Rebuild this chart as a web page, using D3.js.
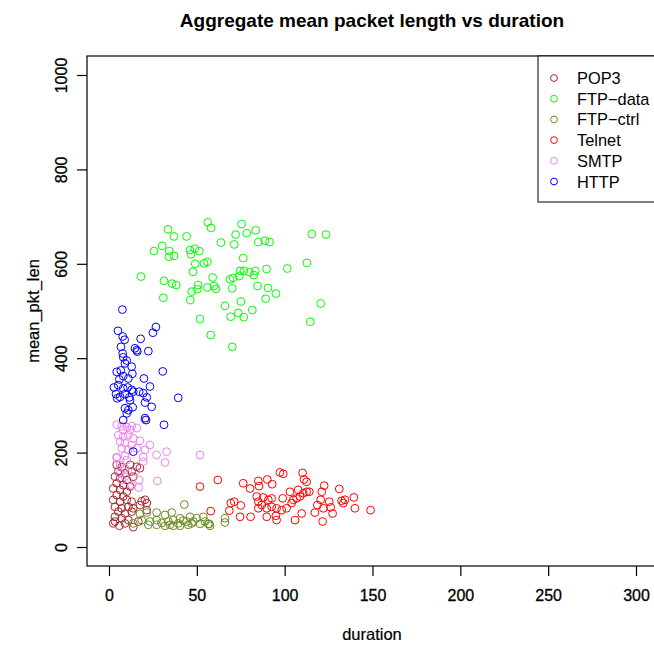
<html>

<head>
    <script src="https://d3js.org/d3.v7.min.js"></script>
    <style>
        body { margin: 0; background: #fff; }
        text { font-family: "Liberation Sans", Arial, sans-serif; }
    </style>
</head>

<body>
    <svg id="chartArea" width="654" height="647"></svg>
    <script>
        // protocols in legend order, with R colour names
        const protocols = ["POP3", "FTP\u2212data", "FTP\u2212ctrl", "Telnet", "SMTP", "HTTP"];
        const colors = ["#a52a2a", "#00ff00", "#6b8e23", "#ff0000", "#ee82ee", "#0000ff"];

        // [duration, mean_pkt_len]
        const pop3 = [
            [4.4, 174], [7.2, 169], [12.0, 174], [15.8, 170], [17.6, 167], [5.3, 160], [9.1, 156], [12.9, 160],
            [3.4, 149], [6.3, 146], [10.1, 142], [13.8, 149], [4.4, 135], [8.1, 131], [12.0, 128], [2.4, 124],
            [6.3, 121], [10.1, 117], [4.4, 110], [8.1, 107], [2.4, 100], [6.3, 96], [10.1, 100], [12.9, 96],
            [18.6, 97], [20.5, 100], [21.5, 93], [3.4, 85], [7.2, 82], [11.0, 85], [13.8, 82], [17.6, 89],
            [21.5, 78], [5.3, 75], [9.1, 71], [12.9, 75], [3.4, 64], [7.2, 61], [11.0, 57], [3.4, 54],
            [5.9, 45], [9.1, 50], [13.8, 42], [2.4, 50], [16.7, 54]
        ];
        const ftpData = [
            [56.2, 688], [58.1, 676], [75.5, 684], [33.6, 673], [37.0, 658], [44.2, 658], [72.1, 662], [78.4, 665],
            [83.5, 671], [115.4, 663], [123.5, 662], [63.7, 645], [71.3, 641], [85.0, 646], [88.8, 649], [91.4, 646],
            [30.3, 638], [25.6, 627], [34.3, 627], [46.1, 629], [48.9, 632], [51.4, 627], [46.7, 620], [34.1, 615],
            [37.0, 617], [76.4, 612], [49.1, 600], [54.1, 601], [56.0, 604], [47.8, 583], [74.6, 585], [76.8, 585],
            [79.9, 582], [83.3, 585], [89.7, 589], [101.5, 590], [112.7, 602], [18.2, 573], [31.3, 564], [35.9, 558],
            [38.3, 555], [59.0, 571], [68.9, 567], [70.7, 570], [74.2, 574], [82.5, 576], [50.7, 555], [47.1, 541],
            [50.3, 546], [56.0, 550], [60.9, 547], [59.8, 553], [70.2, 548], [84.6, 553], [90.5, 549], [95.0, 537],
            [89.2, 526], [30.9, 528], [46.3, 523], [66.0, 511], [75.1, 520], [81.6, 502], [73.6, 496], [69.3, 488],
            [76.7, 487], [120.5, 516], [114.6, 477], [51.8, 483], [57.9, 449], [70.2, 424]
        ];
        const ftpCtrl = [
            [42.9, 90], [17.6, 70], [21.5, 73], [27.1, 73], [31.9, 68], [35.7, 73], [40.4, 61], [46.1, 64],
            [49.9, 61], [53.7, 64], [56.5, 49], [57.5, 45], [13.8, 50], [18.6, 57], [23.3, 54], [27.1, 57],
            [30.0, 51], [33.8, 54], [36.6, 57], [39.4, 50], [42.3, 56], [45.1, 47], [48.0, 54], [51.8, 49],
            [22.4, 47], [31.9, 45], [36.6, 45], [44.2, 54], [27.1, 47], [34.7, 47], [40.4, 45], [47.1, 50],
            [54.6, 54], [57.1, 49], [66.0, 61], [66.0, 52]
        ];
        const telnet = [
            [51.8, 128], [61.9, 142], [57.9, 76], [68.5, 77], [69.3, 93], [71.3, 96], [75.0, 88], [74.6, 64],
            [80.6, 64], [76.4, 135], [80.3, 124], [85.0, 140], [85.4, 129], [90.1, 143], [92.9, 133], [97.3, 158],
            [99.2, 155], [110.2, 157], [111.0, 143], [112.5, 138], [84.1, 107], [87.8, 105], [90.7, 100], [92.6, 103],
            [85.0, 96], [86.9, 89], [89.8, 82], [92.6, 85], [95.4, 82], [98.3, 78], [101.1, 82], [85.0, 82],
            [89.8, 64], [95.0, 66], [95.4, 57], [98.9, 103], [103.0, 117], [104.0, 93], [104.9, 100], [106.8, 103],
            [108.7, 107], [107.7, 121], [110.6, 114], [112.5, 117], [114.0, 117], [105.9, 57], [109.7, 71], [117.2, 73],
            [118.6, 89], [120.5, 100], [121.1, 117], [122.5, 130], [121.6, 54], [122.0, 82], [125.4, 96], [126.2, 84],
            [127.3, 71], [131.1, 123], [132.4, 98], [134.3, 100], [133.4, 93], [139.4, 105], [140.0, 82], [148.9, 78]
        ];
        const smtp = [
            [4.4, 259], [7.2, 256], [10.1, 254], [12.9, 256], [15.8, 252], [8.1, 248], [12.0, 248], [20.5, 269],
            [5.3, 237], [8.1, 234], [11.0, 237], [13.8, 230], [17.6, 225], [6.3, 223], [9.1, 220], [12.9, 216],
            [23.3, 216], [7.2, 209], [11.0, 206], [15.8, 209], [20.5, 206], [27.1, 195], [32.8, 202], [51.8, 195],
            [4.4, 191], [9.1, 193], [19.5, 191], [10.1, 184], [19.5, 181], [31.9, 179], [6.3, 174], [9.1, 167],
            [14.8, 160], [6.3, 156], [9.1, 149], [17.2, 142], [27.5, 140], [12.9, 131], [16.9, 126], [7.2, 142],
            [4.4, 188]
        ];
        const http = [
            [7.6, 503], [5.1, 458], [7.8, 446], [8.9, 439], [18.0, 441], [26.7, 466], [25.0, 454], [6.8, 424],
            [14.8, 421], [15.8, 417], [16.1, 414], [22.4, 415], [7.8, 410], [8.1, 402], [10.1, 395], [9.1, 389],
            [12.9, 382], [30.6, 372], [4.4, 371], [6.7, 374], [8.1, 362], [13.3, 367], [5.9, 355], [11.0, 357],
            [19.9, 357], [2.8, 338], [5.3, 343], [8.1, 336], [10.6, 338], [12.9, 333], [23.3, 340], [4.0, 324],
            [6.3, 318], [9.1, 324], [11.6, 317], [13.8, 329], [17.2, 329], [19.5, 326], [21.5, 317], [39.4, 316],
            [4.7, 315], [12.0, 311], [20.5, 306], [9.1, 294], [11.0, 290], [13.5, 296], [24.3, 297], [10.1, 283],
            [8.1, 269], [20.5, 273], [21.1, 269], [31.3, 259], [13.8, 202]
        ];
        const series = [pop3, ftpData, ftpCtrl, telnet, smtp, http];

        const xTicks = [0, 50, 100, 150, 200, 250, 300];
        const yTicks = [0, 200, 400, 600, 800, 1000];

        const svg = d3.select("#chartArea");
        const box = { left: 87, top: 56, right: 662, bottom: 566 };

        const xScale = d3.scaleLinear().domain([0, 300]).range([109, 636]);
        const yScale = d3.scaleLinear().domain([0, 1000]).range([547, 75]);

        // title
        svg.append("text")
            .attr("x", 372).attr("y", 27)
            .attr("text-anchor", "middle")
            .attr("font-size", "19px").attr("font-weight", "bold")
            .text("Aggregate mean packet length vs duration");

        // axes
        const xAxis = d3.axisBottom(xScale).tickValues(xTicks).tickSize(10).tickPadding(14);
        const gx = svg.append("g").attr("transform", `translate(0,${box.bottom})`).call(xAxis);
        gx.select(".domain").remove();
        gx.selectAll("line").attr("stroke-width", 1.2);
        gx.selectAll("text").attr("font-size", "16px").attr("font-family", null).attr("fill", "#000")
            .attr("stroke", "#000").attr("stroke-width", 0.3);

        const yAxis = d3.axisLeft(yScale).tickValues(yTicks).tickSize(10).tickFormat(d3.format("d"));
        const gy = svg.append("g").attr("transform", `translate(${box.left},0)`).call(yAxis);
        gy.select(".domain").remove();
        gy.selectAll("line").attr("stroke-width", 1.2);
        gy.selectAll("text")
            .attr("font-size", "16px").attr("font-family", null).attr("fill", "#000")
            .attr("stroke", "#000").attr("stroke-width", 0.3)
            .attr("x", null).attr("dy", null)
            .attr("text-anchor", "middle")
            .attr("transform", "translate(-20,0) rotate(-90)");

        svg.append("text")
            .attr("x", 372).attr("y", 640)
            .attr("text-anchor", "middle").attr("font-size", "16.5px")
            .attr("stroke", "#000").attr("stroke-width", 0.2)
            .text("duration");
        svg.append("text")
            .attr("transform", `translate(39,311) rotate(-90)`)
            .attr("text-anchor", "middle").attr("font-size", "16.5px")
            .attr("stroke", "#000").attr("stroke-width", 0.2)
            .text("mean_pkt_len");

        // points
        series.forEach((pts, i) => {
            svg.append("g").selectAll("circle").data(pts).join("circle")
                .attr("cx", d => xScale(d[0]))
                .attr("cy", d => yScale(d[1]))
                .attr("r", 3.9)
                .attr("fill", "none")
                .attr("stroke", colors[i])
                .attr("stroke-width", 1);
        });

        // frame
        svg.append("rect")
            .attr("x", box.left).attr("y", box.top)
            .attr("width", box.right - box.left).attr("height", box.bottom - box.top)
            .attr("fill", "none").attr("stroke", "#000").attr("stroke-width", 1.2);

        // legend
        const legend = svg.append("g");
        legend.append("rect")
            .attr("x", 538).attr("y", box.top)
            .attr("width", 130).attr("height", 146)
            .attr("fill", "#fff").attr("stroke", "#000").attr("stroke-width", 1);
        const rows = legend.selectAll("g.row").data(protocols).join("g")
            .attr("class", "row")
            .attr("transform", (d, i) => `translate(0,${78 + i * 20.7})`);
        rows.append("circle")
            .attr("cx", 554).attr("cy", 0).attr("r", 3.4)
            .attr("fill", "none").attr("stroke", (d, i) => colors[i]).attr("stroke-width", 1);
        rows.append("text")
            .attr("x", 577).attr("y", 6)
            .attr("font-size", "16.4px")
            .text(d => d);
    </script>
</body>

</html>
